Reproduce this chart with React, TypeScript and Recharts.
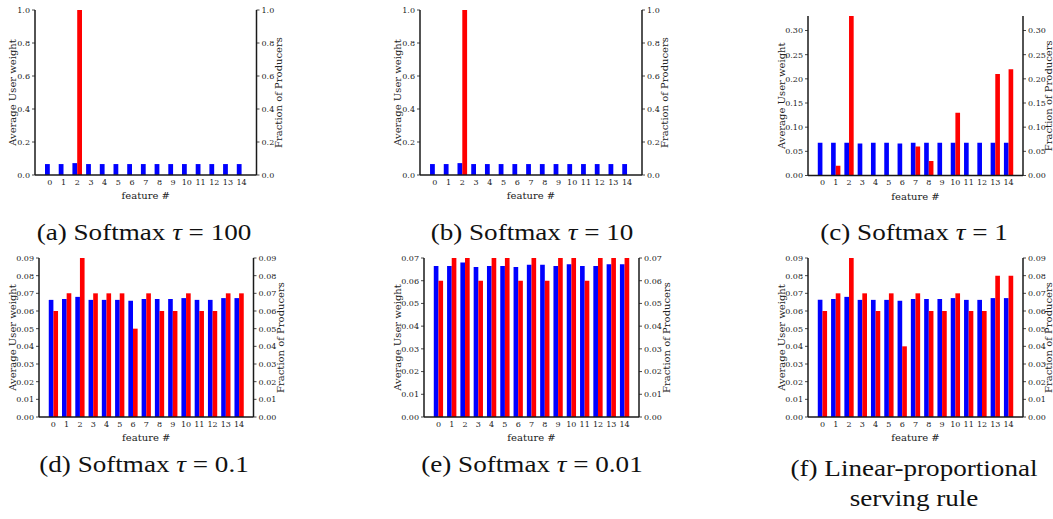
import React from 'react';
import { BarChart, Bar, XAxis, YAxis } from 'recharts';

// ---------- data ----------
const features = ['0', '1', '2', '3', '4', '5', '6', '7', '8', '9', '10', '11', '12', '13', '14'];

const userA = [0.0663, 0.0663, 0.072, 0.0663, 0.0663, 0.0663, 0.0663, 0.0663, 0.0663, 0.0663, 0.0663, 0.0663, 0.0663, 0.0663, 0.0663];
const prodA = [0, 0, 1.0, 0, 0, 0, 0, 0, 0, 0, 0, 0, 0, 0, 0];

const userB = [0.0663, 0.0663, 0.072, 0.0663, 0.0663, 0.0663, 0.0663, 0.0663, 0.0663, 0.0663, 0.0663, 0.0663, 0.0663, 0.0663, 0.0663];
const prodB = [0, 0, 1.0, 0, 0, 0, 0, 0, 0, 0, 0, 0, 0, 0, 0];

const userC = [0.068, 0.068, 0.068, 0.066, 0.068, 0.068, 0.066, 0.068, 0.068, 0.068, 0.068, 0.068, 0.068, 0.068, 0.068];
const prodC = [0, 0.02, 0.33, 0, 0, 0, 0, 0.06, 0.03, 0, 0.13, 0, 0, 0.21, 0.22];

const userD = [0.0663, 0.0668, 0.068, 0.0663, 0.0663, 0.0663, 0.0658, 0.0668, 0.0668, 0.0668, 0.0673, 0.0663, 0.0663, 0.0673, 0.0673];
const prodD = [0.06, 0.07, 0.09, 0.07, 0.07, 0.07, 0.05, 0.07, 0.06, 0.06, 0.07, 0.06, 0.06, 0.07, 0.07];

const userE = [0.0665, 0.0665, 0.068, 0.066, 0.0665, 0.0665, 0.066, 0.067, 0.067, 0.0665, 0.0673, 0.0665, 0.0665, 0.0673, 0.0673];
const prodE = [0.06, 0.07, 0.07, 0.06, 0.07, 0.07, 0.06, 0.07, 0.06, 0.07, 0.07, 0.06, 0.07, 0.07, 0.07];

const userF = [0.0663, 0.0668, 0.068, 0.0663, 0.0663, 0.0663, 0.0658, 0.0668, 0.0668, 0.0668, 0.0673, 0.0663, 0.0663, 0.0673, 0.0673];
const prodF = [0.06, 0.07, 0.09, 0.07, 0.06, 0.07, 0.04, 0.07, 0.06, 0.06, 0.07, 0.06, 0.06, 0.08, 0.08];

const ticksUnit = [0, 0.2, 0.4, 0.6, 0.8, 1.0];
const ticksC = [0, 0.05, 0.1, 0.15, 0.2, 0.25, 0.3];
const ticks009 = [0, 0.01, 0.02, 0.03, 0.04, 0.05, 0.06, 0.07, 0.08, 0.09];
const ticks007 = [0, 0.01, 0.02, 0.03, 0.04, 0.05, 0.06, 0.07];

const xLabel = 'feature #';
const leftLabel = 'Average User weight';
const rightLabel = 'Fraction of Producers';

// ---------- styling ----------
const FONT = 'DejaVu Serif';
const CAP_FONT = "'Liberation Serif', 'Times New Roman', Times, serif";
const SPINE = '#1a1a1a';
const BLUE = '#0000ff';
const RED = '#ff0000';

type Box = { L: number; T: number; R: number; B: number };

function Panel(props: {
  box: Box;
  users: number[];
  prods: number[];
  yMax: number;
  ticks: number[];
  decimals: number;
  leftOff: number;
  rightOff: number;
}) {
  const { box, users, prods, yMax, ticks, decimals, leftOff, rightOff } = props;
  const { L, T, R, B } = box;
  const W = R - L;
  const H = B - T;
  const YW = 35;
  const MT = 10;
  const XH = 30;
  const s = W / 16.17;
  const pad = 0.585 * s;
  const data = features.map((f, i) => ({ feature: f, user: users[i], prod: prods[i] }));
  const tickStyle = { fontSize: 8, fill: '#222', fontFamily: FONT };
  const labelStyle = { fontSize: 10, fill: '#222', fontFamily: FONT, textAnchor: 'middle' as const };
  const fmt = (v: number) => v.toFixed(decimals);
  return (
    <div style={{ position: 'absolute', left: L - YW, top: T - MT }}>
      <BarChart
        width={W + 2 * YW}
        height={H + MT + XH}
        data={data}
        margin={{ top: MT, right: 0, bottom: 0, left: 0 }}
        barGap={0}
        barSize={0.35 * s}
      >
        <XAxis
          dataKey="feature"
          height={XH}
          padding={{ left: pad, right: pad }}
          interval={0}
          tickLine={false}
          tickSize={3}
          tickMargin={1}
          axisLine={{ stroke: SPINE, strokeWidth: 1.5 }}
          tick={tickStyle}
          label={{ value: xLabel, position: 'insideBottom', offset: 6, style: labelStyle }}
        />
        <XAxis
          xAxisId="top"
          orientation="top"
          dataKey="feature"
          height={0}
          padding={{ left: pad, right: pad }}
          tick={false}
          tickLine={false}
          axisLine={{ stroke: SPINE, strokeWidth: 1.5 }}
        />
        <YAxis
          yAxisId="l"
          width={YW}
          domain={[0, yMax]}
          allowDataOverflow
          ticks={ticks}
          interval={0}
          tickFormatter={fmt}
          tickSize={3}
          tickMargin={2}
          tick={tickStyle}
          tickLine={{ stroke: SPINE, strokeWidth: 0.8 }}
          axisLine={{ stroke: SPINE, strokeWidth: 1.5 }}
          label={{ value: leftLabel, angle: -90, position: 'insideLeft', offset: leftOff, style: labelStyle }}
        />
        <YAxis
          yAxisId="r"
          orientation="right"
          width={YW}
          domain={[0, yMax]}
          allowDataOverflow
          ticks={ticks}
          interval={0}
          tickFormatter={fmt}
          tickSize={3}
          tickMargin={2}
          tick={tickStyle}
          tickLine={{ stroke: SPINE, strokeWidth: 0.8 }}
          axisLine={{ stroke: SPINE, strokeWidth: 1.5 }}
          label={{ value: rightLabel, angle: -90, position: 'insideRight', offset: rightOff, style: labelStyle }}
        />
        <Bar yAxisId="l" xAxisId={0} dataKey="user" fill={BLUE} isAnimationActive={false} />
        <Bar yAxisId="r" xAxisId={0} dataKey="prod" fill={RED} isAnimationActive={false} />
      </BarChart>
    </div>
  );
}

const captionA = ['(a) Softmax ', 'τ', ' = 100'];
const captionB = ['(b) Softmax ', 'τ', ' = 10'];
const captionC = ['(c) Softmax ', 'τ', ' = 1'];
const captionD = ['(d) Softmax ', 'τ', ' = 0.1'];
const captionE = ['(e) Softmax ', 'τ', ' = 0.01'];
const captionF1 = '(f) Linear-proportional';
const captionF2 = 'serving rule';

const capStyle = { fontFamily: CAP_FONT, fontSize: 24, fill: '#111' };
const CAP_STRETCH = 1.13;

function Caption({ parts, x, y }: { parts: string[]; x: number; y: number }) {
  return (
    <g transform={`translate(${x},${y}) scale(${CAP_STRETCH},1)`}>
      <text x={0} y={0} textAnchor="middle" style={capStyle}>
        {parts[0]}
        <tspan fontStyle="italic">{parts[1]}</tspan>
        {parts[2]}
      </text>
    </g>
  );
}

function CaptionPlain({ value, x, y }: { value: string; x: number; y: number }) {
  return (
    <g transform={`translate(${x},${y}) scale(${CAP_STRETCH},1)`}>
      <text x={0} y={0} textAnchor="middle" style={capStyle}>
        {value}
      </text>
    </g>
  );
}

export default function App() {
  return (
    <div
      style={{
        position: 'absolute',
        left: 0,
        top: 0,
        width: 1053,
        height: 519,
        background: '#fff',
        fontFamily: FONT,
        overflow: 'hidden',
      }}
    >
      <Panel box={{ L: 35, T: 10, R: 256.5, B: 175 }} users={userA} prods={prodA} yMax={1.0} ticks={ticksUnit} decimals={1} leftOff={12} rightOff={13} />
      <Panel box={{ L: 420, T: 10, R: 642, B: 175 }} users={userB} prods={prodB} yMax={1.0} ticks={ticksUnit} decimals={1} leftOff={12} rightOff={13} />
      <Panel box={{ L: 808, T: 16, R: 1023, B: 175.5 }} users={userC} prods={prodC} yMax={0.33} ticks={ticksC} decimals={2} leftOff={8} rightOff={10} />
      <Panel box={{ L: 39, T: 258, R: 253.5, B: 417 }} users={userD} prods={prodD} yMax={0.09} ticks={ticks009} decimals={2} leftOff={8} rightOff={8} />
      <Panel box={{ L: 423.5, T: 258, R: 638.5, B: 417 }} users={userE} prods={prodE} yMax={0.07} ticks={ticks007} decimals={2} leftOff={8} rightOff={8} />
      <Panel box={{ L: 808, T: 258, R: 1023, B: 417 }} users={userF} prods={prodF} yMax={0.09} ticks={ticks009} decimals={2} leftOff={8} rightOff={10} />
      <svg
        width={1053}
        height={519}
        style={{ position: 'absolute', left: 0, top: 0, pointerEvents: 'none' }}
      >
        <Caption parts={captionA} x={144} y={240} />
        <Caption parts={captionB} x={532} y={240} />
        <Caption parts={captionC} x={914} y={240} />
        <Caption parts={captionD} x={144} y={472} />
        <Caption parts={captionE} x={532} y={472} />
        <CaptionPlain value={captionF1} x={914} y={476} />
        <CaptionPlain value={captionF2} x={914} y={506} />
      </svg>
    </div>
  );
}
